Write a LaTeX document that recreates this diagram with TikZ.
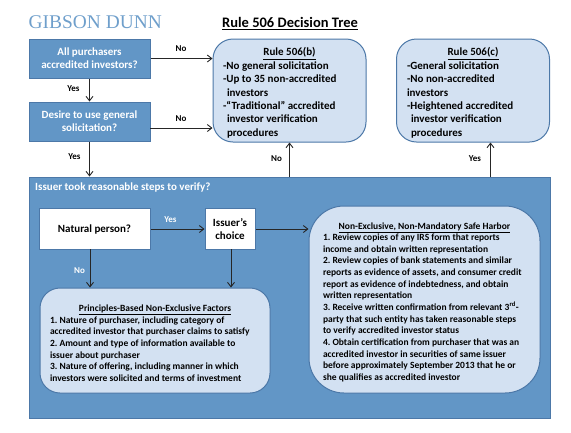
\documentclass[tikz,border=0pt]{standalone}
\usepackage{fontspec}
\setmainfont{Carlito}
\newfontfamily\logofont{Liberation Serif}
\usetikzlibrary{arrows.meta}
\definecolor{midblue}{HTML}{6296C6}
\definecolor{edgeblue}{HTML}{4C78A8}
\definecolor{paleblue}{HTML}{D3E1F2}
\definecolor{logoblue}{HTML}{6F9FCB}
\newcommand{\fs}[2]{\fontsize{#1}{#2}\selectfont\bfseries\frenchspacing}
\tikzset{
  x=1pt,y=-1pt,
  base/.style={draw=edgeblue,line width=1pt,inner sep=0pt,align=center},
  qbox/.style={base,fill=midblue,text=white},
  wbox/.style={base,fill=white,text=black},
  rulebox/.style={base,fill=paleblue,rounded corners=20pt,align=left},
  lab/.style={font=\fs{9}{11},inner sep=0pt},
  link/.style={line width=0.9pt,draw=black!85,-{Straight Barb[length=4.5pt,width=7pt]}}
}
\begin{document}
\begin{tikzpicture}
\useasboundingbox (0,0) rectangle (571,432);
\node[font=\logofont\fontsize{19.4}{21}\selectfont,text=logoblue,anchor=west,inner sep=0pt] (logo) at (28.5,22) {GIBSON DUNN};
\node[font=\fs{14.5}{16},anchor=west,inner sep=0pt] (title) at (222,23.5) {\underline{Rule 506 Decision Tree}};
\node[qbox,minimum width=121pt,minimum height=39pt,font=\fs{11}{13}] (q1) at (89.5,58.5) {All purchasers\\accredited investors?};
\node[qbox,minimum width=121pt,minimum height=39pt,font=\fs{11}{13}] (q2) at (89.5,121.5) {Desire to use general\\solicitation?};
\node[rulebox,minimum width=153pt,minimum height=103pt,font=\fs{11}{13.4}] (b) at (289.5,90.5) {\rule{0pt}{13pt}\makebox[133pt][c]{\underline{Rule 506(b)}}\\-No general solicitation\\-Up to 35 non-accredited\\\hspace*{4pt}investors\\-“Traditional” accredited\\\hspace*{4pt}investor verification\\\hspace*{4pt}procedures};
\node[rulebox,minimum width=153pt,minimum height=103pt,font=\fs{11}{13.4}] (c) at (473,90.5) {\rule{0pt}{13pt}\makebox[132pt][c]{\underline{Rule 506(c)}}\\-General solicitation\\-No non-accredited\\investors\\-Heightened accredited\\\hspace*{4pt}investor verification\\\hspace*{4pt}procedures};
\node[qbox,minimum width=521pt,minimum height=241pt] (big) at (289.5,297.5) {};
\node[font=\fs{11}{13},text=white,anchor=west,inner sep=0pt] (bigt) at (35,187.5) {Issuer took reasonable steps to verify?};
\node[wbox,minimum width=111pt,minimum height=41pt,font=\fs{11}{13}] (np) at (94.5,229) {Natural person?};
\node[wbox,minimum width=50pt,minimum height=41pt,font=\fs{11}{13}] (ic) at (230,229) {Issuer’s\\choice};
\node[rulebox,minimum width=230pt,minimum height=105pt,font=\fs{9.5}{11.7}] (p) at (155,340.5) {\rule{0pt}{12pt}\makebox[210pt][c]{\underline{Principles-Based Non-Exclusive Factors}}\\1. Nature of purchaser, including category of\\accredited investor that purchaser claims to satisfy\\2. Amount and type of information available to\\issuer about purchaser\\3. Nature of offering, including manner in which\\investors were solicited and terms of investment};
\node[rulebox,rounded corners=35pt,minimum width=231pt,minimum height=187pt,font=\fs{9.5}{11.65}] (s) at (424.5,299.5) {\rule{0pt}{12pt}\makebox[203pt][c]{\underline{Non-Exclusive, Non-Mandatory Safe Harbor}}\\1. Review copies of any IRS form that reports\\income and obtain written representation\\2. Review copies of bank statements and similar\\reports as evidence of assets, and consumer credit\\report as evidence of indebtedness, and obtain\\written representation\\3. Receive written confirmation from relevant 3\textsuperscript{rd}-\\party that such entity has taken reasonable steps\\to verify accredited investor status\\4. Obtain certification from purchaser that was an\\accredited investor in securities of same issuer\\before approximately September 2013 that he or\\she qualifies as accredited investor};
\coordinate (cup) at (490.5,177);
\coordinate (npdown) at (90,249);
\coordinate (icdown) at (231,249);
\coordinate (q2out) at (150,128);
\draw[link] (q1.east) -- (q1.east -| b.west);
\draw[link] (q2out) -- (q2out -| b.west);
\draw[link] (q1.south) -- (q2.north);
\draw[link] (q2.south) -- (big.north -| q2.south);
\draw[link] (big.north -| b.south) -- (b.south);
\draw[link] (cup) -- (cup |- c.south);
\draw[link] (np.east) -- (ic.west);
\draw[link] (ic.east) -- (ic.east -| s.west);
\draw[link] (npdown) -- (npdown |- p.north);
\draw[link] (icdown) -- (icdown |- p.north);
\node[lab] (l1) at (181,49) {No};
\node[lab] (l2) at (73.5,89) {Yes};
\node[lab] (l3) at (181,119) {No};
\node[lab] (l4) at (74.5,157) {Yes};
\node[lab] (l5) at (276.5,159) {No};
\node[lab] (l6) at (475,159) {Yes};
\node[lab,text=white] (l7) at (170.5,220) {Yes};
\node[lab,text=white] (l8) at (79.5,270.5) {No};
\end{tikzpicture}
\end{document}
